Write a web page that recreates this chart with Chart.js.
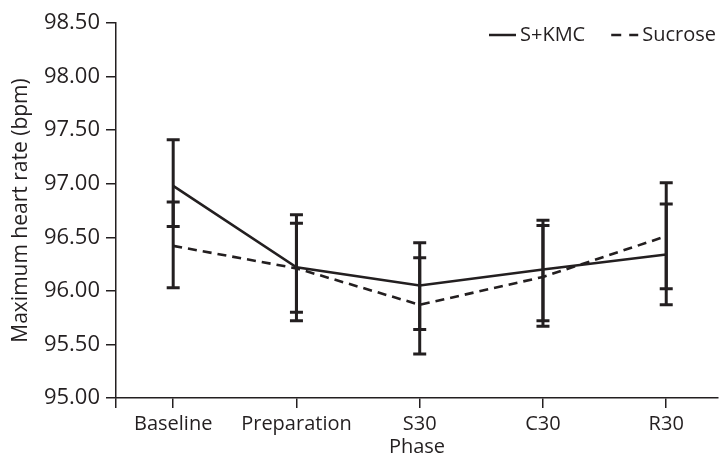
<!DOCTYPE html>
<html>
<head>
<meta charset="utf-8">
<script src="https://cdn.jsdelivr.net/npm/chart.js@4.4.0/dist/chart.umd.min.js"></script>
<style>
  html, body { margin: 0; padding: 0; background: #ffffff; }
  #wrap { width: 719px; height: 460px; }
</style>
</head>
<body>
<div id="wrap"><canvas id="c" width="719" height="460"></canvas></div>
<script>
// ---- data ----
const categories = ['Baseline', 'Preparation', 'S30', 'C30', 'R30'];
const seriesNames = ['S+KMC', 'Sucrose'];
const skmcMean = [96.98, 96.22, 96.05, 96.20, 96.34];
const skmcUpper = [97.41, 96.63, 96.45, 96.66, 96.81];
const skmcLower = [96.60, 95.80, 95.64, 95.72, 95.87];
const sucroseMean = [96.42, 96.21, 95.87, 96.13, 96.51];
const sucroseUpper = [96.83, 96.71, 96.31, 96.61, 97.01];
const sucroseLower = [96.03, 95.72, 95.41, 95.67, 96.02];
const yTickLabels = ['95.00', '95.50', '96.00', '96.50', '97.00', '97.50', '98.00', '98.50'];

const INK = '#231f20';
const FONT = '"Open Sans", "DejaVu Sans", sans-serif';

function pts(arr) { return arr.map((v, i) => ({ x: i, y: v })); }

const errorBars = {
  id: 'errorBars',
  afterDatasetsDraw(chart) {
    const ctx = chart.ctx;
    const xs = chart.scales.x, ys = chart.scales.y;
    const sets = [[skmcUpper, skmcLower], [sucroseUpper, sucroseLower]];
    ctx.save();
    ctx.strokeStyle = INK;
    ctx.lineWidth = 3;
    ctx.lineCap = 'butt';
    sets.forEach(([up, lo]) => {
      up.forEach((u, i) => {
        const x = xs.getPixelForValue(i);
        const y1 = ys.getPixelForValue(u);
        const y2 = ys.getPixelForValue(lo[i]);
        ctx.beginPath();
        ctx.moveTo(x, y1); ctx.lineTo(x, y2);
        ctx.moveTo(x - 6.5, y1); ctx.lineTo(x + 6.5, y1);
        ctx.moveTo(x - 6.5, y2); ctx.lineTo(x + 6.5, y2);
        ctx.stroke();
      });
    });
    ctx.restore();
  }
};

const customLegend = {
  id: 'customLegend',
  afterDraw(chart) {
    const ctx = chart.ctx;
    const area = chart.chartArea;
    ctx.save();
    ctx.font = '20px ' + FONT;
    ctx.fillStyle = INK;
    ctx.strokeStyle = INK;
    ctx.textBaseline = 'middle';
    const sample = 27, gap = 4, spacing = 26;
    const items = chart.data.datasets.map(ds => ({ text: ds.label, dash: ds.borderDash || [], w: ctx.measureText(ds.label).width }));
    let total = 0;
    items.forEach((it, k) => { total += sample + gap + it.w + (k ? spacing : 0); });
    let x = area.right - 2 - total;
    const y = area.top + 12;
    items.forEach((it, k) => {
      if (k) x += spacing;
      ctx.beginPath();
      ctx.lineWidth = 2.5;
      ctx.setLineDash(it.dash.length ? [10, 8] : []);
      ctx.moveTo(x, y); ctx.lineTo(x + sample, y);
      ctx.stroke();
      ctx.setLineDash([]);
      x += sample + gap;
      ctx.textAlign = 'left';
      ctx.fillText(it.text, x, y);
      x += it.w;
    });
    ctx.restore();
  }
};

const axisCommon = {
  grid: { drawOnChartArea: false, drawTicks: true, tickLength: 10, color: INK, lineWidth: 1.5 },
  border: { display: true, color: INK, width: 1.5 },
};

new Chart(document.getElementById('c'), {
  type: 'line',
  data: {
    datasets: [
      { label: seriesNames[0], data: pts(skmcMean), borderColor: INK, borderWidth: 2.6, pointRadius: 0, fill: false, tension: 0 },
      { label: seriesNames[1], data: pts(sucroseMean), borderColor: INK, borderWidth: 2.6, borderDash: [9, 6], pointRadius: 0, fill: false, tension: 0 }
    ]
  },
  options: {
    responsive: false,
    animation: false,
    devicePixelRatio: 1,
    layout: { padding: { left: 8, right: 1, top: 23, bottom: 0 } },
    plugins: { legend: { display: false }, tooltip: { enabled: false } },
    scales: {
      x: {
        type: 'linear',
        min: -0.464,
        max: 4.42,
        ...axisCommon,
        afterBuildTicks(scale) {
          scale.ticks = [{ value: scale.min }].concat(categories.map((c, i) => ({ value: i })));
        },
        afterFit(scale) { scale.height = 62; },
        ticks: {
          autoSkip: false,
          maxRotation: 0,
          padding: 4,
          color: INK,
          font: { family: FONT, size: 20 },
          callback(v) { return Number.isInteger(v) && categories[v] !== undefined ? categories[v] : ''; }
        },
        title: { display: true, text: 'Phase', color: INK, font: { family: FONT, size: 20 }, padding: { top: 0, bottom: 1 } }
      },
      y: {
        type: 'linear',
        min: 95,
        max: 98.5,
        ...axisCommon,
        afterBuildTicks(scale) {
          scale.ticks = yTickLabels.map(t => ({ value: parseFloat(t) }));
        },
        afterFit(scale) { scale.width = 108; },
        ticks: {
          padding: 6,
          color: INK,
          font: { family: FONT, size: 22 },
          callback(v) { const i = yTickLabels.findIndex(t => parseFloat(t) === v); return i >= 0 ? yTickLabels[i] : ''; }
        },
        title: { display: true, text: 'Maximum heart rate (bpm)', color: INK, font: { family: FONT, size: 21 }, padding: { top: 0, bottom: 0 } }
      }
    }
  },
  plugins: [errorBars, customLegend]
});
</script>
</body>
</html>
